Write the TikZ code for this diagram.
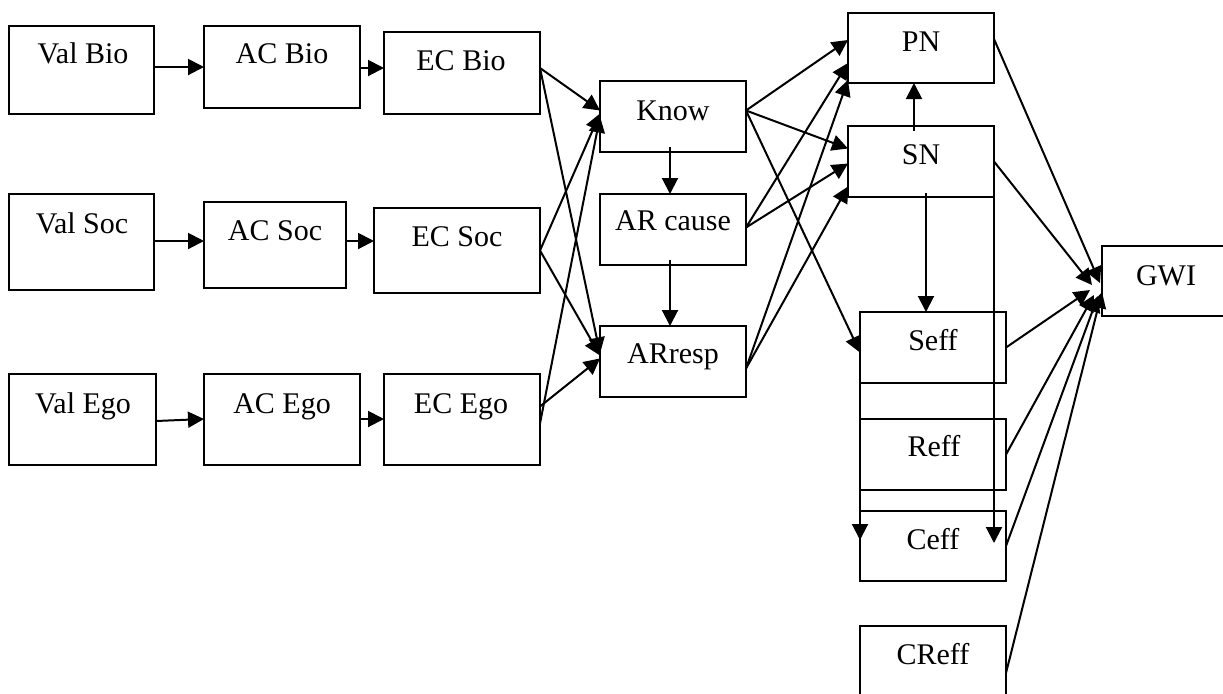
\documentclass[tikz,border=0pt]{standalone}
\usepackage{fontspec}
\setmainfont{Liberation Serif}
\usetikzlibrary{arrows.meta,calc,fit}
\begin{document}
\begin{tikzpicture}[x=0.5pt,y=-0.5pt,
  box/.style={draw,line width=0.9pt,inner sep=0pt,outer sep=0pt,rectangle},
  lbl/.style={font=\fontsize{15pt}{17pt}\selectfont,inner sep=0pt,anchor=base},
  conn/.style={line width=1pt,-{Triangle[length=8pt,width=8pt]}}]
\useasboundingbox (0,0) rectangle (1223,693);
\clip (0,0) rectangle (1223,693);

% boxes
\node[box,fit={(9,26) (154,114)}]    (vb)    {};
\node[box,fit={(204,26) (360,108)}]  (acb)   {};
\node[box,fit={(384,32) (540,114)}]  (ecb)   {};
\node[box,fit={(9,194) (154,290)}]   (vs)    {};
\node[box,fit={(204,202) (346,288)}] (acs)   {};
\node[box,fit={(374,208) (540,293)}] (ecs)   {};
\node[box,fit={(9,374) (156,465)}]   (ve)    {};
\node[box,fit={(204,374) (360,465)}] (ace)   {};
\node[box,fit={(384,374) (540,465)}] (ece)   {};
\node[box,fit={(600,81) (746,152)}]  (know)  {};
\node[box,fit={(600,194) (746,265)}] (arc)   {};
\node[box,fit={(600,326) (746,397)}] (arr)   {};
\node[box,fit={(848,13) (994,83)}]   (pn)    {};
\node[box,fit={(848,126) (994,197)}] (sn)    {};
\node[box,fit={(860,312) (1006,383)}] (seff) {};
\node[box,fit={(860,419) (1006,490)}] (reff) {};
\node[box,fit={(860,511) (1006,581)}] (ceff) {};
\node[box,fit={(860,626) (1006,720)}] (creff) {};
\node[box,fit={(1102,246) (1260,316)}] (gwi) {};

% labels
\node[lbl] at (83,63)   {Val Bio};
\node[lbl] at (282,63)  {AC Bio};
\node[lbl] at (461,70)  {EC Bio};
\node[lbl] at (82,233)  {Val Soc};
\node[lbl] at (275,240) {AC Soc};
\node[lbl] at (457,246) {EC Soc};
\node[lbl] at (83,413)  {Val Ego};
\node[lbl] at (282,413) {AC Ego};
\node[lbl] at (461,413) {EC Ego};
\node[lbl] at (673,120) {Know};
\node[lbl] at (673,230) {AR cause};
\node[lbl] at (673,363) {ARresp};
\node[lbl] at (921,51)  {PN};
\node[lbl] at (921,164) {SN};
\node[lbl] at (933,350) {Seff};
\node[lbl] at (934,456) {Reff};
\node[lbl] at (933,549) {Ceff};
\node[lbl] at (933,664) {CReff};
\node[lbl] at (1166,285) {GWI};

% value -> attitude -> concern chains
\draw[conn] (vb.east |- acb.west) -- (acb.west);
\draw[conn] ($(acb.east)+(0,1)$) -- ($(acb.east -| ecb.west)+(0,1)$);
\draw[conn] ($(vs.east)+(0,-1)$) -- ($(vs.east -| acs.west)+(0,-1)$);
\draw[conn] ($(acs.east)+(0,-4)$) -- ($(acs.east -| ecs.west)+(0,-4)$);
\draw[conn] ($(ve.east)+(0,1.5)$) -- ($(ace.west)+(0,-0.5)$);
\draw[conn] ($(ace.east)+(0,-0.5)$) -- ($(ece.west)+(0,-0.5)$);

% concerns -> knowledge and responsibility
\draw[conn] ($(ecb.east)+(0,-5)$) -- ($(know.west)+(0,-6)$);
\draw[conn] ($(ecb.east)+(0,-5)$) -- ($(arr.west)+(0,-8)$);
\draw[conn] (ecs.east) -- ($(know.west)+(0,-3)$);
\draw[conn] (ecs.east) -- ($(arr.west)+(0,-6)$);
\draw[conn] ($(ece.east)+(0,4)$) -- (know.west);
\draw[conn] ($(ece.east)+(0,-13)$) -- ($(arr.west)+(0,-3)$);

% middle column
\draw[conn] ($(know.south)+(-3,-5)$) -- ($(arc.north)+(-3,0)$);
\draw[conn] ($(arc.south)+(-3,-5)$) -- ($(arr.north)+(-3,0)$);

% to norms and efficacy
\draw[conn] ($(know.east)+(0,-6)$) -- ($(pn.west)+(0,-8)$);
\draw[conn] ($(know.east)+(0,-6)$) -- ($(sn.west)+(0,-13)$);
\draw[conn] ($(know.east)+(0,-6)$) -- ($(seff.west)+(0,5)$);
\draw[conn] ($(arc.east)+(0,-2)$) -- ($(pn.west)+(0,15)$);
\draw[conn] ($(arc.east)+(0,-2)$) -- ($(sn.west)+(0,2)$);
\draw[conn] ($(arr.east)+(0,7)$) -- ($(pn.west)+(0,32)$);
\draw[conn] ($(arr.east)+(0,7)$) -- ($(sn.west)+(0,25)$);

% right column
\draw[conn] ($(sn.north)+(-7,5)$) -- ($(pn.south)+(-7,0)$);
\draw[conn] ($(sn.south)+(5,-4)$) -- ($(seff.north)+(-7,0)$);
\draw[conn] (sn.east) -- ($(sn.east |- ceff.center)+(0,-3)$);
\draw[conn] (seff.west) -- ($(seff.west |- ceff.center)+(0,-6)$);

% into GWI
\draw[conn] ($(pn.east)+(0,-9)$) -- ($(gwi.west)+(-2,2)$);
\draw[conn] (sn.east)            -- ($(gwi.west)+(-10,4)$);
\draw[conn] (seff.east)          -- ($(gwi.west)+(-12,9)$);
\draw[conn] (reff.east)          -- ($(gwi.west)+(-8,14)$);
\draw[conn] (ceff.east)          -- ($(gwi.west)+(-4,15)$);
\draw[conn] (creff.east)         -- ($(gwi.west)+(0,11)$);
\end{tikzpicture}
\end{document}
